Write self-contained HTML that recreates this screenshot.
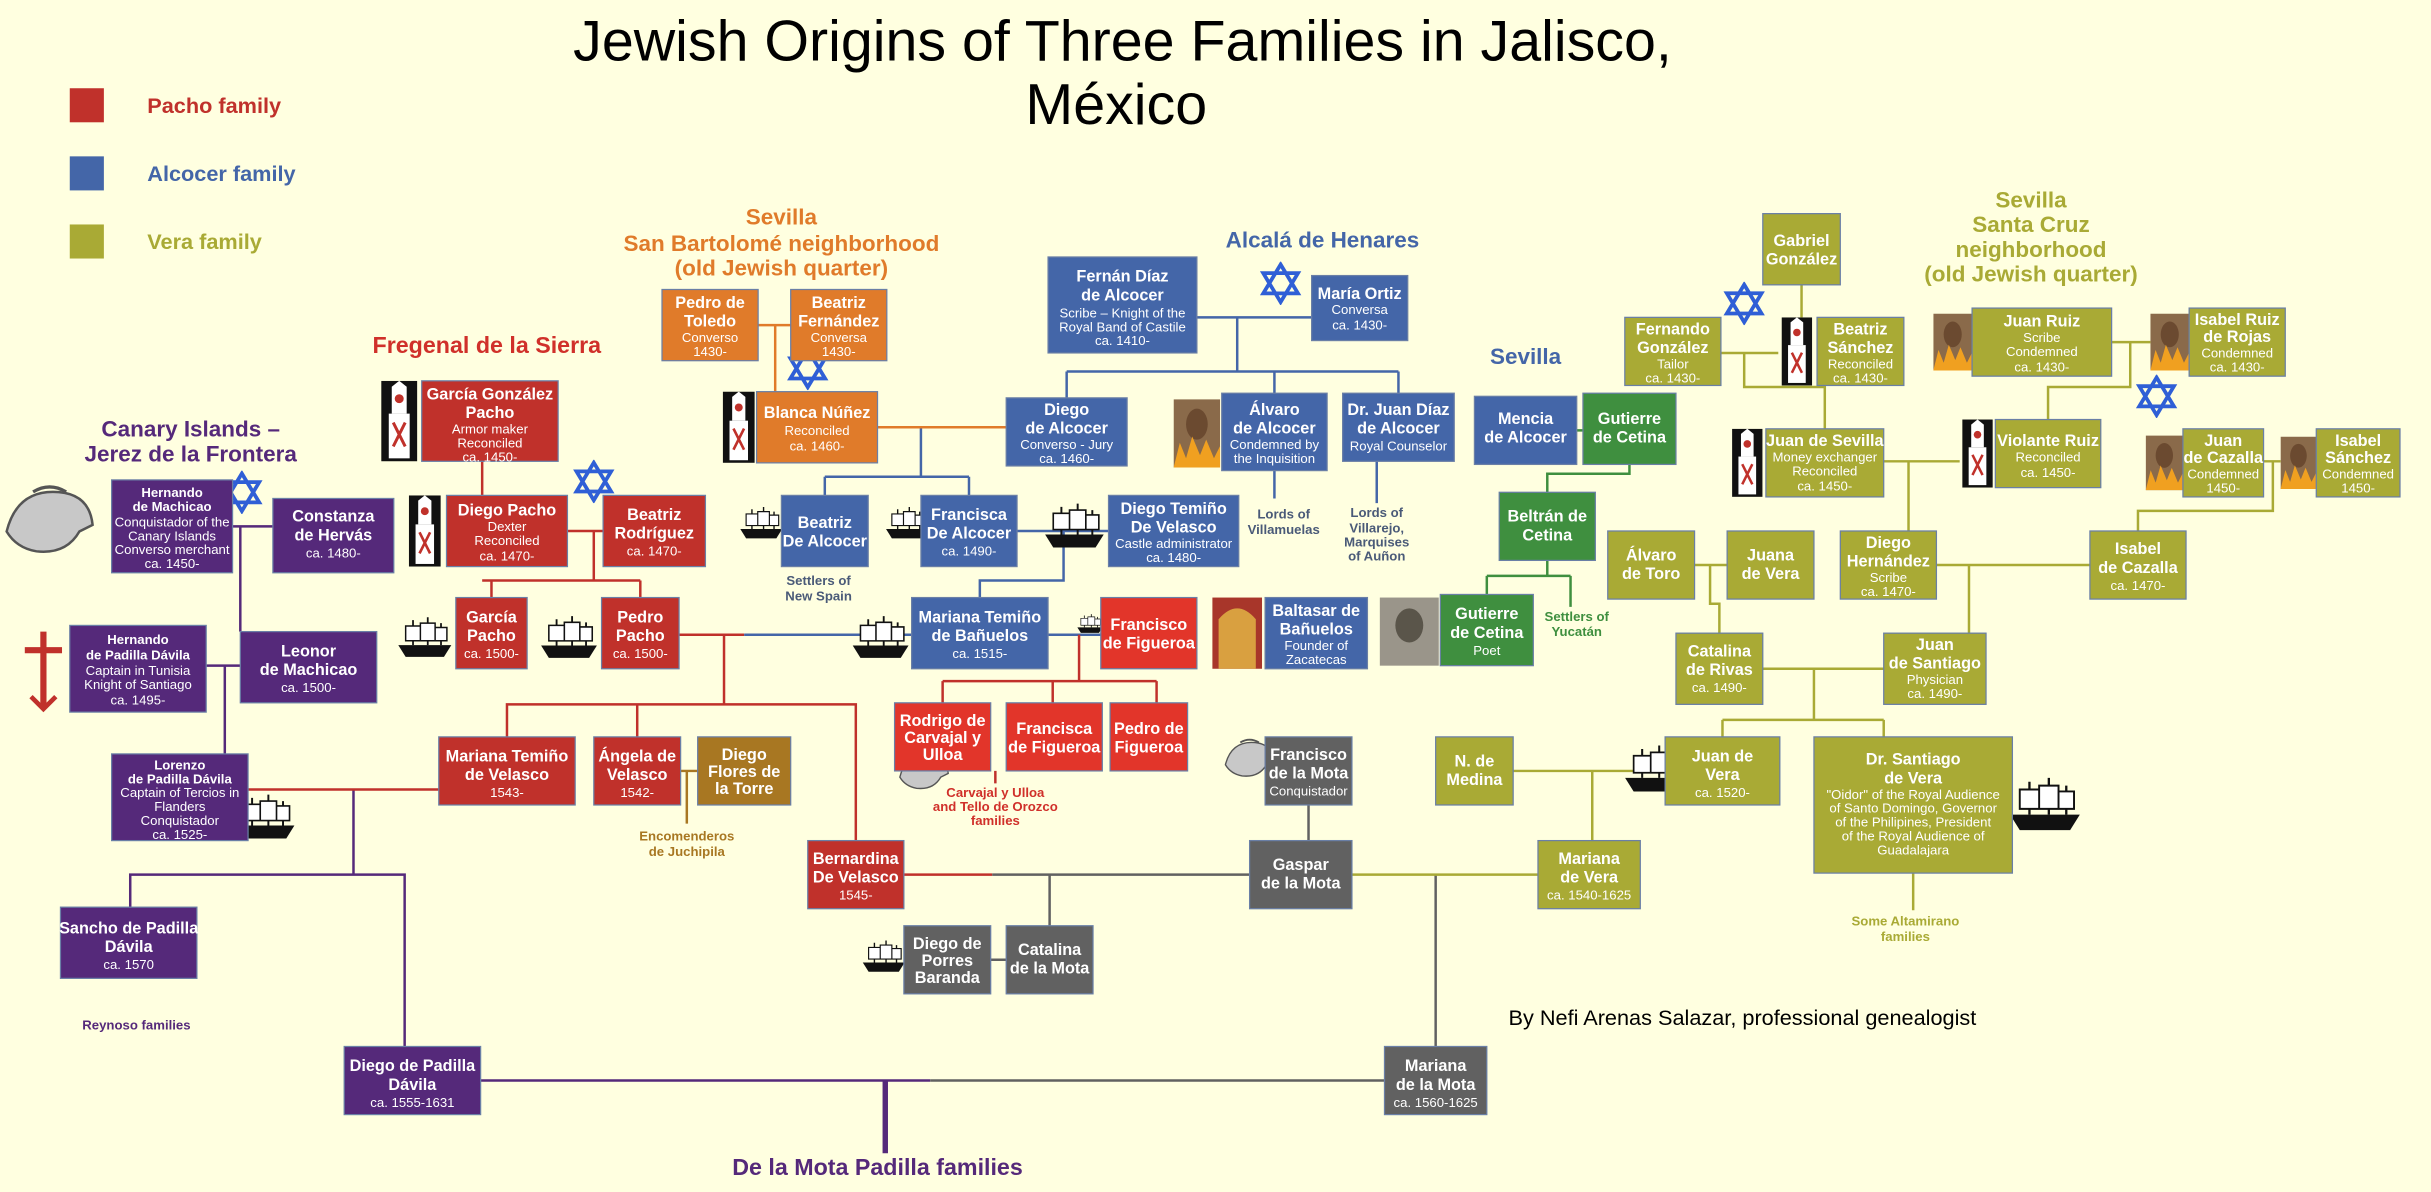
<!DOCTYPE html>
<html><head><meta charset="utf-8"><style>
html,body{margin:0;padding:0;background:#ffffe0}
svg{display:block}
text{font-family:"Liberation Sans",Arial,sans-serif;fill:#fff;text-anchor:middle}
.b{font-weight:bold;font-size:10.5px}
.s{font-size:8.5px}
.R{fill:#c0312b}.B{fill:#4466a8}.O{fill:#a9aa35}.Or{fill:#e07b2a}.P{fill:#55297a}.G{fill:#616161}.Gr{fill:#3f8f3f}.Br{fill:#a87722}.BR{fill:#e2352a}
rect.bx{stroke:#6a7fa6;stroke-width:0.8}
.l{fill:none;stroke-width:1.6}
.lr{stroke:#c0312b}.lb{stroke:#4466a8}.lo{stroke:#a9aa35}.lor{stroke:#e07b2a}.lp{stroke:#55297a}.lg{stroke:#616161}.lgr{stroke:#3f8f3f}.lbr{stroke:#a87722}
</style></head><body>
<svg width="2431" height="1192" viewBox="0 0 1568 770" preserveAspectRatio="none" xmlns="http://www.w3.org/2000/svg">
<defs>
<symbol id="ship" viewBox="0 0 40 30"><path d="M2 20 L38 20 L33 28 L7 28 Z" fill="#111"/><path d="M12 3 V20 M22 1 V20 M31 5 V20" stroke="#111" stroke-width="1.2"/><path d="M7 7 h10 v10 h-10z M17 5 h10 v12 h-10z M27 8 h8 v9 h-8z" fill="#fff" stroke="#111" stroke-width="1"/></symbol>
<symbol id="star" viewBox="0 0 30 30"><path d="M15 2 L27 22 L3 22 Z M15 28 L3 8 L27 8 Z" fill="none" stroke="#2f5fd6" stroke-width="2.6"/></symbol>
<symbol id="san" viewBox="0 0 24 54"><rect width="24" height="54" fill="#111"/><path d="M7 4 L12 0 L17 4 V22 H7Z" fill="#fff"/><rect x="5" y="22" width="14" height="30" fill="#fff"/><path d="M8 28 L16 44 M16 28 L8 44" stroke="#c0312b" stroke-width="2"/><circle cx="12" cy="12" r="3" fill="#c0312b"/></symbol>
<symbol id="fire" viewBox="0 0 30 44"><rect width="30" height="44" fill="#8a6a4a"/><ellipse cx="15" cy="16" rx="7" ry="10" fill="#6b4a30"/><path d="M0 44 L4 28 L8 38 L12 24 L17 36 L21 26 L26 38 L30 30 V44Z" fill="#f0a020"/></symbol>
<symbol id="helm" viewBox="0 0 60 50"><path d="M4 30 Q10 6 32 6 Q54 6 56 26 L48 30 Q40 44 22 42 Q10 40 4 30Z" fill="#c8c8c8" stroke="#555" stroke-width="1.5"/><path d="M20 6 Q30 0 40 6" fill="none" stroke="#555" stroke-width="2"/></symbol>
</defs>
<rect width="1568" height="770" fill="#ffffe0"/>

<!-- Title -->
<text x="724" y="39" style="fill:#000;font-size:37px">Jewish Origins of Three Families in Jalisco,</text>
<text x="720" y="80" style="fill:#000;font-size:37px">México</text>

<!-- Legend -->
<rect x="45" y="57" width="22" height="22" class="R"/><text x="95" y="73" style="fill:#c0312b;font-weight:bold;font-size:14px;text-anchor:start">Pacho family</text>
<rect x="45" y="101" width="22" height="22" class="B"/><text x="95" y="117" style="fill:#4466a8;font-weight:bold;font-size:14px;text-anchor:start">Alcocer family</text>
<rect x="45" y="145" width="22" height="22" class="O"/><text x="95" y="161" style="fill:#a9aa35;font-weight:bold;font-size:14px;text-anchor:start">Vera family</text>

<!-- Headings -->
<text x="314" y="228" style="fill:#d0302a;font-weight:bold;font-size:15px">Fregenal de la Sierra</text>
<text x="123" y="282" style="fill:#55297a;font-weight:bold;font-size:14.5px">Canary Islands –</text>
<text x="123" y="298" style="fill:#55297a;font-weight:bold;font-size:14.5px">Jerez de la Frontera</text>
<text x="504" y="145" style="fill:#e07b2a;font-weight:bold;font-size:14.5px">Sevilla</text>
<text x="504" y="162" style="fill:#e07b2a;font-weight:bold;font-size:14.5px">San Bartolomé neighborhood</text>
<text x="504" y="178" style="fill:#e07b2a;font-weight:bold;font-size:14.5px">(old Jewish quarter)</text>
<text x="853" y="160" style="fill:#4466a8;font-weight:bold;font-size:14.5px">Alcalá de Henares</text>
<text x="984" y="235" style="fill:#4466a8;font-weight:bold;font-size:14.5px">Sevilla</text>
<text x="1310" y="134" style="fill:#a9aa35;font-weight:bold;font-size:14.5px">Sevilla</text>
<text x="1310" y="150" style="fill:#a9aa35;font-weight:bold;font-size:14.5px">Santa Cruz</text>
<text x="1310" y="166" style="fill:#a9aa35;font-weight:bold;font-size:14.5px">neighborhood</text>
<text x="1310" y="182" style="fill:#a9aa35;font-weight:bold;font-size:14.5px">(old Jewish quarter)</text>

<!-- Connectors -->
<g class="l">
<path class="l lp" d="M150 340 H176 M155 340 V408 M133 430 H155 M145 430 V487 M228 510 V565 H84 V586 M228 565 H261 V676"/>
<path class="l lr" d="M160 510 H283"/>
<path class="l lp" d="M310 698 H600"/>
<path class="l lg" d="M600 698 H893"/>
<path d="M571 698 V745" stroke="#55297a" stroke-width="3.5" fill="none"/>
<path class="l lr" d="M311 298 V320 M366 343 H389 M383 343 V375 M311 375 H413 M317 375 V386 M413 375 V386 M438 410 H480 M467 410 V455 H327 V476 M411 455 V476 M467 455 H552 V543 M583 565 H640"/>
<path class="l lbr" d="M439 498 H450 M443 498 V532"/>
<path class="l lb" d="M480 410 H588"/>
<path class="l lg" d="M640 565 H806 M677 565 V598 M639 620 H649 M844 520 V543 M926 565 V676"/>
<path class="l lo" d="M872 565 H992 M976 498 H1074 M1027 498 V543"/>
<path class="l lb" d="M772 205 H846 M798 205 V240 M688 240 H902 M688 240 V257 M822 240 V254 M902 240 V254 M594 276 V308 M532 308 H625 M532 308 V320 M625 308 V320 M656 343 H715 M686 343 V375 H632 V386 M676 410 H710 M822 304 V322 M888 298 V325"/>
<path class="l lor" d="M566 276 H649 M489 210 H510 M500 210 V253"/>
<path class="l lr" d="M696 410 V440 M679 440 H746 M679 440 V454 M608 440 V454 M746 440 V454 M608 440 H679 M642 498 V506"/>
<path class="l lgr" d="M1017 278 H1021 M1051 300 V306 H998 V318 M998 362 V372 M959 372 H1013 M959 372 V384 M1013 372 V392"/>
<path class="l lo" d="M1162 184 V205 M1110 228 H1147 M1125 228 V250 H1177 V277 M1177 250 V249 M1215 298 H1264 M1231 298 V343 M1362 221 H1387 M1374 221 V250 H1321 V271 M1460 298 H1471 M1466 298 V330 H1379 V343 M1249 365 H1348 M1093 365 H1114 M1103 365 V390 H1109 V409 M1270 365 V409 M1137 432 H1215 M1170 432 V465 M1111 465 H1215 M1111 465 V476 M1215 465 V476 M1234 564 V588"/>
</g>

<!-- Icons -->
<use href="#helm" x="0" y="310" width="64" height="56"/>
<path d="M28 408 V458 M16 420 H40" stroke="#c0312b" stroke-width="4"/><path d="M20 450 L28 458 L36 450" stroke="#c0312b" stroke-width="3" fill="none"/>
<use href="#star" x="142" y="304" width="28" height="28"/>
<use href="#star" x="369" y="297" width="28" height="28"/>
<use href="#star" x="507" y="224" width="28" height="28"/>
<use href="#star" x="812" y="169" width="28" height="28"/>
<use href="#star" x="1111" y="182" width="28" height="28"/>
<use href="#star" x="1377" y="242" width="28" height="28"/>
<use href="#san" x="245" y="246" width="25" height="52"/>
<use href="#san" x="262" y="320" width="24" height="46"/>
<use href="#san" x="465" y="253" width="23" height="46"/>
<use href="#san" x="1147" y="205" width="24" height="44"/>
<use href="#san" x="1115" y="277" width="24" height="44"/>
<use href="#san" x="1264" y="271" width="23" height="44"/>
<use href="#fire" x="757" y="256" width="30" height="48"/>
<use href="#fire" x="1247" y="199" width="25" height="44"/>
<use href="#fire" x="1387" y="199" width="25" height="44"/>
<use href="#fire" x="1384" y="277" width="24" height="44"/>
<use href="#fire" x="1471" y="277" width="23" height="44"/>
<rect x="782" y="386" width="32" height="46" fill="#a8362a"/><path d="M786 432 V400 Q798 386 810 400 V432Z" fill="#d9a040"/>
<rect x="890" y="386" width="38" height="44" fill="#9a958a"/><ellipse cx="909" cy="404" rx="9" ry="11" fill="#5a554a"/>
<use href="#helm" x="578" y="484" width="36" height="30"/>
<use href="#helm" x="788" y="476" width="36" height="30"/>
<use href="#ship" x="476" y="320" width="30" height="36"/>
<use href="#ship" x="570" y="320" width="30" height="36"/>
<use href="#ship" x="672" y="318" width="42" height="44"/>
<use href="#ship" x="255" y="390" width="38" height="44"/>
<use href="#ship" x="347" y="390" width="40" height="44"/>
<use href="#ship" x="548" y="390" width="40" height="44"/>
<use href="#ship" x="694" y="392" width="18" height="22"/>
<use href="#ship" x="150" y="508" width="42" height="40"/>
<use href="#ship" x="1046" y="474" width="44" height="46"/>
<use href="#ship" x="1294" y="498" width="50" height="44"/>
<use href="#ship" x="555" y="600" width="30" height="36"/>

<!-- Boxes -->
<g>
<rect class="bx P" x="72" y="310" width="78" height="60"/><text x="111"><tspan x="111" y="321" class="b" style="font-size:8.5px">Hernando</tspan><tspan x="111" y="330" class="b" style="font-size:8.5px">de Machicao</tspan><tspan x="111" y="340" class="s">Conquistador of the</tspan><tspan x="111" y="349" class="s">Canary Islands</tspan><tspan x="111" y="358" class="s">Converso merchant</tspan><tspan x="111" y="367" class="s">ca. 1450-</tspan></text>
<rect class="bx P" x="176" y="322" width="78" height="48"/><text><tspan x="215" y="337" class="b">Constanza</tspan><tspan x="215" y="349" class="b">de Hervás</tspan><tspan x="215" y="360" class="s">ca. 1480-</tspan></text>
<rect class="bx P" x="45" y="404" width="88" height="56"/><text><tspan x="89" y="416" class="b" style="font-size:8.5px">Hernando</tspan><tspan x="89" y="426" class="b" style="font-size:8.5px">de Padilla Dávila</tspan><tspan x="89" y="436" class="s">Captain in Tunisia</tspan><tspan x="89" y="445" class="s">Knight of Santiago</tspan><tspan x="89" y="455" class="s">ca. 1495-</tspan></text>
<rect class="bx P" x="155" y="408" width="88" height="46"/><text><tspan x="199" y="424" class="b">Leonor</tspan><tspan x="199" y="436" class="b">de Machicao</tspan><tspan x="199" y="447" class="s">ca. 1500-</tspan></text>
<rect class="bx P" x="72" y="487" width="88" height="56"/><text><tspan x="116" y="497" class="b" style="font-size:8.5px">Lorenzo</tspan><tspan x="116" y="506" class="b" style="font-size:8.5px">de Padilla Dávila</tspan><tspan x="116" y="515" class="s">Captain of Tercios in</tspan><tspan x="116" y="524" class="s">Flanders</tspan><tspan x="116" y="533" class="s">Conquistador</tspan><tspan x="116" y="542" class="s">ca. 1525-</tspan></text>
<rect class="bx P" x="39" y="586" width="88" height="46"/><text><tspan x="83" y="603" class="b">Sancho de Padilla</tspan><tspan x="83" y="615" class="b">Dávila</tspan><tspan x="83" y="626" class="s">ca. 1570</tspan></text>
<rect class="bx P" x="222" y="676" width="88" height="44"/><text><tspan x="266" y="692" class="b">Diego de Padilla</tspan><tspan x="266" y="704" class="b">Dávila</tspan><tspan x="266" y="715" class="s">ca. 1555-1631</tspan></text>

<rect class="bx R" x="272" y="246" width="88" height="52"/><text><tspan x="316" y="258" class="b">García González</tspan><tspan x="316" y="270" class="b">Pacho</tspan><tspan x="316" y="280" class="s">Armor maker</tspan><tspan x="316" y="289" class="s">Reconciled</tspan><tspan x="316" y="298" class="s">ca. 1450-</tspan></text>
<rect class="bx R" x="288" y="320" width="78" height="46"/><text><tspan x="327" y="333" class="b">Diego Pacho</tspan><tspan x="327" y="343" class="s">Dexter</tspan><tspan x="327" y="352" class="s">Reconciled</tspan><tspan x="327" y="362" class="s">ca. 1470-</tspan></text>
<rect class="bx R" x="389" y="320" width="66" height="46"/><text><tspan x="422" y="336" class="b">Beatriz</tspan><tspan x="422" y="348" class="b">Rodríguez</tspan><tspan x="422" y="359" class="s">ca. 1470-</tspan></text>
<rect class="bx R" x="294" y="386" width="46" height="46"/><text><tspan x="317" y="402" class="b">García</tspan><tspan x="317" y="414" class="b">Pacho</tspan><tspan x="317" y="425" class="s">ca. 1500-</tspan></text>
<rect class="bx R" x="388" y="386" width="50" height="46"/><text><tspan x="413" y="402" class="b">Pedro</tspan><tspan x="413" y="414" class="b">Pacho</tspan><tspan x="413" y="425" class="s">ca. 1500-</tspan></text>
<rect class="bx R" x="283" y="476" width="88" height="44"/><text><tspan x="327" y="492" class="b">Mariana Temiño</tspan><tspan x="327" y="504" class="b">de Velasco</tspan><tspan x="327" y="515" class="s">1543-</tspan></text>
<rect class="bx R" x="383" y="476" width="56" height="44"/><text><tspan x="411" y="492" class="b">Ángela de</tspan><tspan x="411" y="504" class="b">Velasco</tspan><tspan x="411" y="515" class="s">1542-</tspan></text>
<rect class="bx Br" x="450" y="476" width="60" height="44"/><text><tspan x="480" y="491" class="b">Diego</tspan><tspan x="480" y="502" class="b">Flores de</tspan><tspan x="480" y="513" class="b">la Torre</tspan></text>
<rect class="bx R" x="521" y="543" width="62" height="44"/><text><tspan x="552" y="558" class="b">Bernardina</tspan><tspan x="552" y="570" class="b">De Velasco</tspan><tspan x="552" y="581" class="s">1545-</tspan></text>
<rect class="bx BR" x="577" y="454" width="62" height="44"/><text><tspan x="608" y="469" class="b">Rodrigo de</tspan><tspan x="608" y="480" class="b">Carvajal y</tspan><tspan x="608" y="491" class="b">Ulloa</tspan></text>
<rect class="bx BR" x="649" y="454" width="62" height="44"/><text><tspan x="680" y="474" class="b">Francisca</tspan><tspan x="680" y="486" class="b">de Figueroa</tspan></text>
<rect class="bx BR" x="716" y="454" width="50" height="44"/><text><tspan x="741" y="474" class="b">Pedro de</tspan><tspan x="741" y="486" class="b">Figueroa</tspan></text>
<rect class="bx BR" x="710" y="386" width="62" height="46"/><text><tspan x="741" y="407" class="b">Francisco</tspan><tspan x="741" y="419" class="b">de Figueroa</tspan></text>

<rect class="bx Or" x="427" y="187" width="62" height="46"/><text><tspan x="458" y="199" class="b">Pedro de</tspan><tspan x="458" y="211" class="b">Toledo</tspan><tspan x="458" y="221" class="s">Converso</tspan><tspan x="458" y="230" class="s">1430-</tspan></text>
<rect class="bx Or" x="510" y="187" width="62" height="46"/><text><tspan x="541" y="199" class="b">Beatriz</tspan><tspan x="541" y="211" class="b">Fernández</tspan><tspan x="541" y="221" class="s">Conversa</tspan><tspan x="541" y="230" class="s">1430-</tspan></text>
<rect class="bx Or" x="488" y="253" width="78" height="46"/><text><tspan x="527" y="270" class="b">Blanca Núñez</tspan><tspan x="527" y="281" class="s">Reconciled</tspan><tspan x="527" y="291" class="s">ca. 1460-</tspan></text>

<rect class="bx B" x="676" y="166" width="96" height="62"/><text><tspan x="724" y="182" class="b">Fernán Díaz</tspan><tspan x="724" y="194" class="b">de Alcocer</tspan><tspan x="724" y="205" class="s">Scribe – Knight of the</tspan><tspan x="724" y="214" class="s">Royal Band of Castile</tspan><tspan x="724" y="223" class="s">ca. 1410-</tspan></text>
<rect class="bx B" x="846" y="178" width="62" height="42"/><text><tspan x="877" y="193" class="b">María Ortiz</tspan><tspan x="877" y="203" class="s">Conversa</tspan><tspan x="877" y="213" class="s">ca. 1430-</tspan></text>
<rect class="bx B" x="649" y="257" width="78" height="44"/><text><tspan x="688" y="268" class="b">Diego</tspan><tspan x="688" y="280" class="b">de Alcocer</tspan><tspan x="688" y="290" class="s">Converso - Jury</tspan><tspan x="688" y="299" class="s">ca. 1460-</tspan></text>
<rect class="bx B" x="788" y="254" width="68" height="50"/><text><tspan x="822" y="268" class="b">Álvaro</tspan><tspan x="822" y="280" class="b">de Alcocer</tspan><tspan x="822" y="290" class="s">Condemned by</tspan><tspan x="822" y="299" class="s">the Inquisition</tspan></text>
<rect class="bx B" x="866" y="254" width="72" height="44"/><text><tspan x="902" y="268" class="b">Dr. Juan Díaz</tspan><tspan x="902" y="280" class="b">de Alcocer</tspan><tspan x="902" y="291" class="s">Royal Counselor</tspan></text>
<rect class="bx B" x="951" y="256" width="66" height="44"/><text><tspan x="984" y="274" class="b">Mencia</tspan><tspan x="984" y="286" class="b">de Alcocer</tspan></text>
<rect class="bx B" x="504" y="320" width="56" height="46"/><text><tspan x="532" y="341" class="b">Beatriz</tspan><tspan x="532" y="353" class="b">De Alcocer</tspan></text>
<rect class="bx B" x="594" y="320" width="62" height="46"/><text><tspan x="625" y="336" class="b">Francisca</tspan><tspan x="625" y="348" class="b">De Alcocer</tspan><tspan x="625" y="359" class="s">ca. 1490-</tspan></text>
<rect class="bx B" x="715" y="320" width="84" height="46"/><text><tspan x="757" y="332" class="b">Diego Temiño</tspan><tspan x="757" y="344" class="b">De Velasco</tspan><tspan x="757" y="354" class="s">Castle administrator</tspan><tspan x="757" y="363" class="s">ca. 1480-</tspan></text>
<rect class="bx B" x="588" y="386" width="88" height="46"/><text><tspan x="632" y="402" class="b">Mariana Temiño</tspan><tspan x="632" y="414" class="b">de Bañuelos</tspan><tspan x="632" y="425" class="s">ca. 1515-</tspan></text>
<rect class="bx B" x="816" y="386" width="66" height="46"/><text><tspan x="849" y="398" class="b">Baltasar de</tspan><tspan x="849" y="410" class="b">Bañuelos</tspan><tspan x="849" y="420" class="s">Founder of</tspan><tspan x="849" y="429" class="s">Zacatecas</tspan></text>

<rect class="bx Gr" x="1021" y="254" width="60" height="46"/><text><tspan x="1051" y="274" class="b">Gutierre</tspan><tspan x="1051" y="286" class="b">de Cetina</tspan></text>
<rect class="bx Gr" x="967" y="318" width="62" height="44"/><text><tspan x="998" y="337" class="b">Beltrán de</tspan><tspan x="998" y="349" class="b">Cetina</tspan></text>
<rect class="bx Gr" x="929" y="384" width="60" height="46"/><text><tspan x="959" y="400" class="b">Gutierre</tspan><tspan x="959" y="412" class="b">de Cetina</tspan><tspan x="959" y="423" class="s">Poet</tspan></text>

<rect class="bx G" x="816" y="476" width="56" height="44"/><text><tspan x="844" y="491" class="b">Francisco</tspan><tspan x="844" y="503" class="b">de la Mota</tspan><tspan x="844" y="514" class="s">Conquistador</tspan></text>
<rect class="bx G" x="806" y="543" width="66" height="44"/><text><tspan x="839" y="562" class="b">Gaspar</tspan><tspan x="839" y="574" class="b">de la Mota</tspan></text>
<rect class="bx G" x="583" y="598" width="56" height="44"/><text><tspan x="611" y="613" class="b">Diego de</tspan><tspan x="611" y="624" class="b">Porres</tspan><tspan x="611" y="635" class="b">Baranda</tspan></text>
<rect class="bx G" x="649" y="598" width="56" height="44"/><text><tspan x="677" y="617" class="b">Catalina</tspan><tspan x="677" y="629" class="b">de la Mota</tspan></text>
<rect class="bx G" x="893" y="676" width="66" height="44"/><text><tspan x="926" y="692" class="b">Mariana</tspan><tspan x="926" y="704" class="b">de la Mota</tspan><tspan x="926" y="715" class="s">ca. 1560-1625</tspan></text>

<rect class="bx O" x="1137" y="138" width="50" height="46"/><text><tspan x="1162" y="159" class="b">Gabriel</tspan><tspan x="1162" y="171" class="b">González</tspan></text>
<rect class="bx O" x="1048" y="205" width="62" height="44"/><text><tspan x="1079" y="216" class="b">Fernando</tspan><tspan x="1079" y="228" class="b">González</tspan><tspan x="1079" y="238" class="s">Tailor</tspan><tspan x="1079" y="247" class="s">ca. 1430-</tspan></text>
<rect class="bx O" x="1172" y="205" width="56" height="44"/><text><tspan x="1200" y="216" class="b">Beatriz</tspan><tspan x="1200" y="228" class="b">Sánchez</tspan><tspan x="1200" y="238" class="s">Reconciled</tspan><tspan x="1200" y="247" class="s">ca. 1430-</tspan></text>
<rect class="bx O" x="1272" y="199" width="90" height="44"/><text><tspan x="1317" y="211" class="b">Juan Ruiz</tspan><tspan x="1317" y="221" class="s">Scribe</tspan><tspan x="1317" y="230" class="s">Condemned</tspan><tspan x="1317" y="240" class="s">ca. 1430-</tspan></text>
<rect class="bx O" x="1412" y="199" width="62" height="44"/><text><tspan x="1443" y="210" class="b">Isabel Ruiz</tspan><tspan x="1443" y="221" class="b">de Rojas</tspan><tspan x="1443" y="231" class="s">Condemned</tspan><tspan x="1443" y="240" class="s">ca. 1430-</tspan></text>
<rect class="bx O" x="1139" y="277" width="76" height="44"/><text><tspan x="1177" y="288" class="b">Juan de Sevilla</tspan><tspan x="1177" y="298" class="s">Money exchanger</tspan><tspan x="1177" y="307" class="s">Reconciled</tspan><tspan x="1177" y="317" class="s">ca. 1450-</tspan></text>
<rect class="bx O" x="1287" y="271" width="68" height="44"/><text><tspan x="1321" y="288" class="b">Violante Ruiz</tspan><tspan x="1321" y="298" class="s">Reconciled</tspan><tspan x="1321" y="308" class="s">ca. 1450-</tspan></text>
<rect class="bx O" x="1408" y="277" width="52" height="44"/><text><tspan x="1434" y="288" class="b">Juan</tspan><tspan x="1434" y="299" class="b">de Cazalla</tspan><tspan x="1434" y="309" class="s">Condemned</tspan><tspan x="1434" y="318" class="s">1450-</tspan></text>
<rect class="bx O" x="1494" y="277" width="54" height="44"/><text><tspan x="1521" y="288" class="b">Isabel</tspan><tspan x="1521" y="299" class="b">Sánchez</tspan><tspan x="1521" y="309" class="s">Condemned</tspan><tspan x="1521" y="318" class="s">1450-</tspan></text>
<rect class="bx O" x="1037" y="343" width="56" height="44"/><text><tspan x="1065" y="362" class="b">Álvaro</tspan><tspan x="1065" y="374" class="b">de Toro</tspan></text>
<rect class="bx O" x="1114" y="343" width="56" height="44"/><text><tspan x="1142" y="362" class="b">Juana</tspan><tspan x="1142" y="374" class="b">de Vera</tspan></text>
<rect class="bx O" x="1187" y="343" width="62" height="44"/><text><tspan x="1218" y="354" class="b">Diego</tspan><tspan x="1218" y="366" class="b">Hernández</tspan><tspan x="1218" y="376" class="s">Scribe</tspan><tspan x="1218" y="385" class="s">ca. 1470-</tspan></text>
<rect class="bx O" x="1348" y="343" width="62" height="44"/><text><tspan x="1379" y="358" class="b">Isabel</tspan><tspan x="1379" y="370" class="b">de Cazalla</tspan><tspan x="1379" y="381" class="s">ca. 1470-</tspan></text>
<rect class="bx O" x="1081" y="409" width="56" height="46"/><text><tspan x="1109" y="424" class="b">Catalina</tspan><tspan x="1109" y="436" class="b">de Rivas</tspan><tspan x="1109" y="447" class="s">ca. 1490-</tspan></text>
<rect class="bx O" x="1215" y="409" width="66" height="46"/><text><tspan x="1248" y="420" class="b">Juan</tspan><tspan x="1248" y="432" class="b">de Santiago</tspan><tspan x="1248" y="442" class="s">Physician</tspan><tspan x="1248" y="451" class="s">ca. 1490-</tspan></text>
<rect class="bx O" x="926" y="476" width="50" height="44"/><text><tspan x="951" y="495" class="b">N. de</tspan><tspan x="951" y="507" class="b">Medina</tspan></text>
<rect class="bx O" x="1074" y="476" width="74" height="44"/><text><tspan x="1111" y="492" class="b">Juan de</tspan><tspan x="1111" y="504" class="b">Vera</tspan><tspan x="1111" y="515" class="s">ca. 1520-</tspan></text>
<rect class="bx O" x="1170" y="476" width="128" height="88"/><text><tspan x="1234" y="494" class="b">Dr. Santiago</tspan><tspan x="1234" y="506" class="b">de Vera</tspan><tspan x="1234" y="516" class="s">"Oidor" of the Royal Audience</tspan><tspan x="1234" y="525" class="s">of Santo Domingo, Governor</tspan><tspan x="1234" y="534" class="s">of the Philipines, President</tspan><tspan x="1234" y="543" class="s">of the Royal Audience of</tspan><tspan x="1234" y="552" class="s">Guadalajara</tspan></text>
<rect class="bx O" x="992" y="543" width="66" height="44"/><text><tspan x="1025" y="558" class="b">Mariana</tspan><tspan x="1025" y="570" class="b">de Vera</tspan><tspan x="1025" y="581" class="s">ca. 1540-1625</tspan></text>
</g>

<!-- Annotations -->
<g style="font-weight:bold;font-size:8.5px">
<text x="528" y="378" style="fill:#4a5a78">Settlers of</text><text x="528" y="388" style="fill:#4a5a78">New Spain</text>
<text x="828" y="335" style="fill:#4a5a78">Lords of</text><text x="828" y="345" style="fill:#4a5a78">Villamuelas</text>
<text x="888" y="334" style="fill:#4a5a78">Lords of</text><text x="888" y="344" style="fill:#4a5a78">Villarejo,</text><text x="888" y="353" style="fill:#4a5a78">Marquises</text><text x="888" y="362" style="fill:#4a5a78">of Auñon</text>
<text x="443" y="543" style="fill:#a87722">Encomenderos</text><text x="443" y="553" style="fill:#a87722">de Juchipila</text>
<text x="642" y="515" style="fill:#d0302a">Carvajal y Ulloa</text><text x="642" y="524" style="fill:#d0302a">and Tello de Orozco</text><text x="642" y="533" style="fill:#d0302a">families</text>
<text x="1017" y="401" style="fill:#3f8f3f">Settlers of</text><text x="1017" y="411" style="fill:#3f8f3f">Yucatán</text>
<text x="1229" y="598" style="fill:#a9aa35">Some Altamirano</text><text x="1229" y="608" style="fill:#a9aa35">families</text>
<text x="88" y="665" style="fill:#55297a">Reynoso families</text>
</g>
<text x="566" y="759" style="fill:#55297a;font-weight:bold;font-size:15px">De la Mota Padilla families</text>
<text x="973" y="662" style="fill:#000;font-size:14px;text-anchor:start">By Nefi Arenas Salazar, professional genealogist</text>
</svg>
</body></html>
